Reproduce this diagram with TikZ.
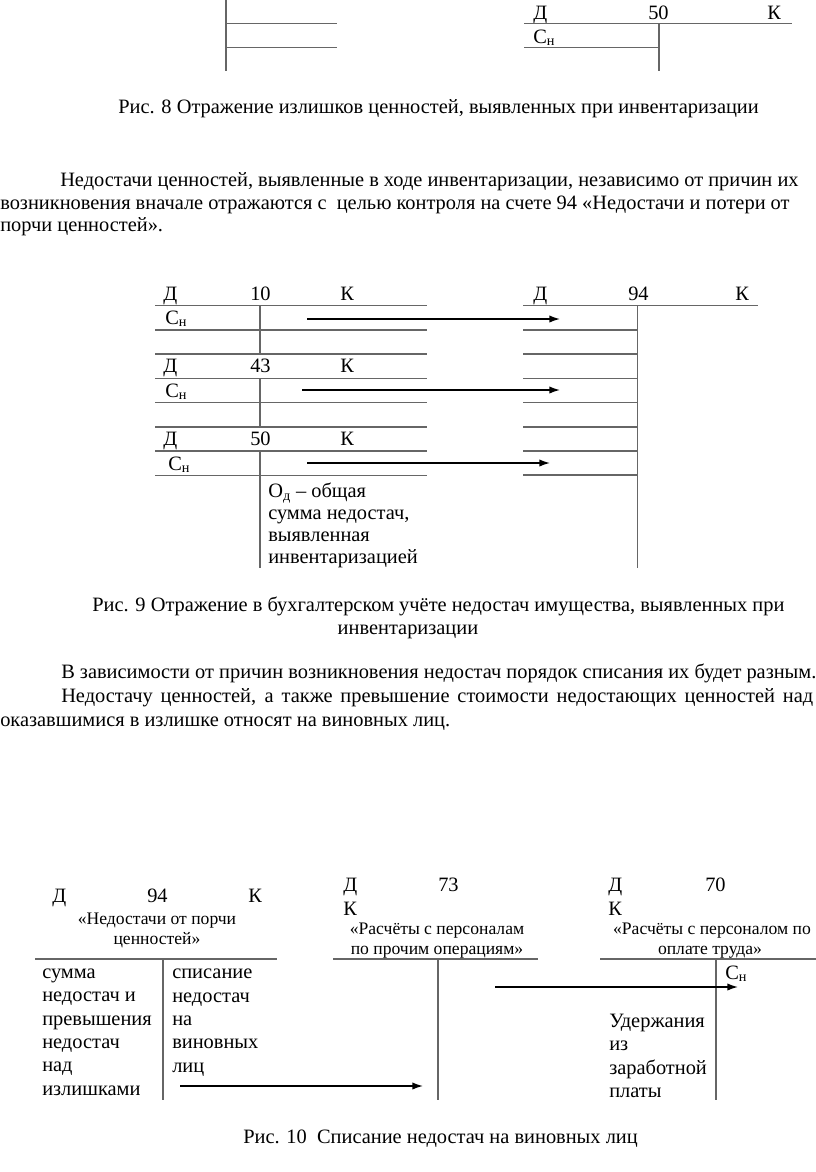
\documentclass[tikz,border=0pt]{standalone}
\usepackage{fontspec}
\setmainfont{Liberation Serif}
\usetikzlibrary{arrows.meta}
\tikzset{
  line/.style={draw=black!60, line width=0.8pt},
  arr/.style={-{Latex[length=8pt,width=5.5pt]}, line width=1.1pt},
  txt/.style={anchor=base west, inner sep=0pt, font=\fontsize{15.3}{17.5}\selectfont},
  sm/.style={anchor=base west, inner sep=0pt, font=\fontsize{13.2}{15}\selectfont},
  rows/.style={txt, align=left, font=\fontsize{15.3}{17.5}\selectfont}
}
\newcommand{\Sn}{С\textsubscript{н}}
\begin{document}
\begin{tikzpicture}[x=0.75pt,y=-0.75pt]
  \useasboundingbox (0,0) rectangle (816,1172);
  % fig. 8 (tail)
  \draw[line] (226,0)--(226,71);
  \draw[line] (226,23.3)--(337,23.3);
  \draw[line] (226,47.7)--(337,47.7);
  \node[txt] (d50a) at (533,19) {Д};
  \node[txt] (n50a) at (648,19) {50};
  \node[txt] (k50a) at (767,19) {К};
  \draw[line] (524,23.3)--(792,23.3);
  \draw[line] (659,23.3)--(659,71);
  \node[txt] (sn50a) at (533,43) {\Sn};
  \draw[line] (524,47.7)--(659,47.7);
  \node[txt] (cap8) at (118,113) {Рис. 8 Отражение излишков ценностей, выявленных при инвентаризации};
  % text
  \node[txt] (p1a) at (60,186) {Недостачи ценностей, выявленные в ходе инвентаризации, независимо от причин их};
  \node[txt] (p1b) at (0,209) {возникновения вначале отражаются с\ \ целью контроля на счете 94 «Недостачи и потери от};
  \node[txt] (p1c) at (0,231) {порчи ценностей».};
  % fig. 9
  \foreach \yy/\num/\name in {305.7/10/a,378.3/43/b,451/50/c}{
    \draw[line] (155,\yy)--(427,\yy);
    \draw[line] (155,\yy+24.3)--(427,\yy+24.3);
    \node[txt] (d\name) at (163,\yy-5.7) {Д};
    \node[txt] (n\name) at (250,\yy-5.7) {\num};
    \node[txt] (k\name) at (340,\yy-5.7) {К};
  }
  \draw[line] (155,354)--(427,354);
  \draw[line] (155,427)--(427,427);
  \draw[line] (260,305.7)--(260,354);
  \draw[line] (260,378.3)--(260,427);
  \draw[line] (260,451)--(260,568);
  \node[txt] (sna) at (165,324) {\Sn};
  \node[txt] (snb) at (165,397) {\Sn};
  \node[txt] (snc) at (168,470) {\Sn};
  \node[rows, font=\fontsize{15.3}{16.5}\selectfont] (od) at (268,563.5) {О\textsubscript{д} – общая\\сумма недостач,\\выявленная\\инвентаризацией};
  \node[txt] (d94) at (533,300) {Д};
  \node[txt] (n94) at (628,300) {94};
  \node[txt] (k94) at (735,300) {К};
  \draw[line] (523,305.7)--(758,305.7);
  \draw[line] (637.7,305.7)--(637.7,568);
  \foreach \yy in {330,354,378.3,402.7,427,451,475}
    \draw[line] (523,\yy)--(637.7,\yy);
  \coordinate (fa) at (307,319);
  \coordinate (ta) at (560,319);
  \coordinate (fb) at (302,390);
  \coordinate (tb) at (560,390);
  \coordinate (fc) at (307,463);
  \coordinate (tc) at (550,463);
  \draw[arr] (fa)--(ta);
  \draw[arr] (fb)--(tb);
  \draw[arr] (fc)--(tc);
  \node[txt] (cap9a) at (92,611) {Рис. 9 Отражение в бухгалтерском учёте недостач имущества, выявленных при};
  \node[txt, anchor=base] (cap9b) at (408,634) {инвентаризации};
  % text
  \node[txt] (p2a) at (61,678) {В зависимости от причин возникновения недостач порядок списания их будет разным.};
  \node[txt] (p2b) at (61,702) {\makebox[564pt][s]{Недостачу ценностей, а также превышение стоимости недостающих ценностей над}};
  \node[txt] (p2c) at (0,726) {оказавшимися в излишке относят на виновных лиц.};
  % fig. 10
  \node[txt] (d94b) at (52,902) {Д};
  \node[txt] (n94b) at (147,902) {94};
  \node[txt] (k94b) at (248,902) {К};
  \node[sm, anchor=base] (t94a) at (157,924) {«Недостачи от порчи};
  \node[sm, anchor=base] (t94b) at (157,944) {ценностей»};
  \draw[line] (35,959)--(277,959);
  \draw[line] (163,959)--(163,1100);
  \node[rows] (dr94) at (42,1095) {сумма\\недостач и\\превышения\\недостач\\над\\излишками};
  \node[rows] (cr94) at (172,1072) {списание\\недостач\\на\\виновных\\лиц};
  \node[txt] (d73) at (343,891) {Д};
  \node[txt] (n73) at (438,891) {73};
  \node[txt] (k73) at (343,915) {К};
  \node[sm, anchor=base] (t73a) at (437,934) {«Расчёты с персоналам};
  \node[sm, anchor=base] (t73b) at (437,954) {по прочим операциям»};
  \draw[line] (333,959)--(538,959);
  \draw[line] (438,959)--(438,1100);
  \node[txt] (d70) at (608,891) {Д};
  \node[txt] (n70) at (705,891) {70};
  \node[txt] (k70) at (608,915) {К};
  \node[sm, anchor=base] (t70a) at (712,934) {«Расчёты с персоналом по};
  \node[sm, anchor=base] (t70b) at (710,954) {оплате труда»};
  \draw[line] (600,959)--(816,959);
  \draw[line] (716,959)--(716,1100);
  \node[txt] (sn70) at (725,979) {\Sn};
  \node[rows] (ud) at (609,1097.5) {Удержания\\из\\заработной\\платы};
  \coordinate (fd) at (180,1086);
  \coordinate (td) at (423,1086);
  \coordinate (fe) at (495,987);
  \coordinate (te) at (738,987);
  \draw[arr] (fd)--(td);
  \draw[arr] (fe)--(te);
  \node[txt] (cap10) at (243,1143) {Рис. 10\ \ Списание недостач на виновных лиц};
\end{tikzpicture}
\end{document}
